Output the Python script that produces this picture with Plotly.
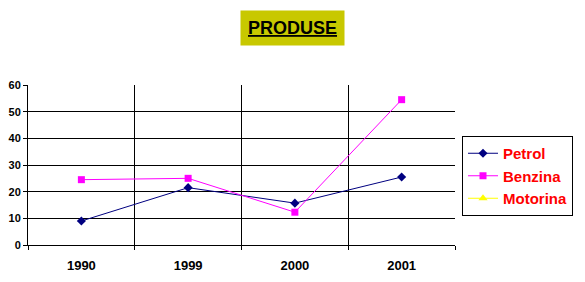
import plotly.graph_objects as go

years = ["1990", "1999", "2000", "2001"]
petrol = [9, 21.5, 15.7, 25.5]
benzina = [24.5, 25, 12.3, 54.5]
motorina = [None, None, None, None]

fig = go.Figure()
fig.add_trace(go.Scatter(x=years, y=petrol, name="Petrol", mode="lines+markers",
                         line=dict(color="#000080", width=1),
                         marker=dict(symbol="diamond", size=7, color="#000080")))
fig.add_trace(go.Scatter(x=years, y=benzina, name="Benzina", mode="lines+markers",
                         line=dict(color="#FF00FF", width=1),
                         marker=dict(symbol="square", size=7, color="#FF00FF")))
fig.add_trace(go.Scatter(x=years, y=motorina, name="Motorina", mode="lines+markers",
                         line=dict(color="#FFFF00", width=1),
                         marker=dict(symbol="triangle-up", size=8, color="#FFFF00"),
                         showlegend=True))

fig.update_layout(
    width=585, height=282,
    margin=dict(l=28, r=130, t=85, b=37),
    paper_bgcolor="white", plot_bgcolor="white",
    font=dict(family="Liberation Sans, Arial", color="black"),
    showlegend=True,
    legend=dict(xref="container", yref="container",
                x=462 / 585, y=1 - 176 / 282, xanchor="left", yanchor="middle",
                bordercolor="black", borderwidth=1,
                font=dict(color="#FF0000", size=15, family="Liberation Sans, Arial",
                          weight="bold"),
                itemwidth=30, tracegroupgap=2),
    xaxis=dict(type="category", tickson="boundaries", showgrid=True,
               range=[-0.5, 3.5], automargin=False,
               gridcolor="black", gridwidth=1, showline=True, linecolor="black",
               ticks="outside", ticklen=4, tickcolor="black", ticklabelstandoff=8,
               tickfont=dict(size=13, family="Liberation Sans, Arial", weight="bold"),
               zeroline=False),
    yaxis=dict(range=[0, 60], dtick=10, showgrid=True, gridcolor="black", gridwidth=1,
               showline=True, linecolor="black", ticks="outside", ticklen=4,
               tickcolor="black", zeroline=False, automargin=False,
               tickfont=dict(size=11, family="Liberation Sans, Arial", weight="bold")),
    annotations=[dict(text="<u>PRODUSE</u>", xref="paper", yref="paper",
                      x=(292 - 28) / 427, y=1 + (85 - 28) / 160,
                      xanchor="center", yanchor="middle", showarrow=False,
                      bgcolor="#C8C800", borderpad=7,
                      font=dict(size=18, color="black", family="Liberation Sans, Arial",
                                weight="bold"))],
)

fig.write_html("out.html")
